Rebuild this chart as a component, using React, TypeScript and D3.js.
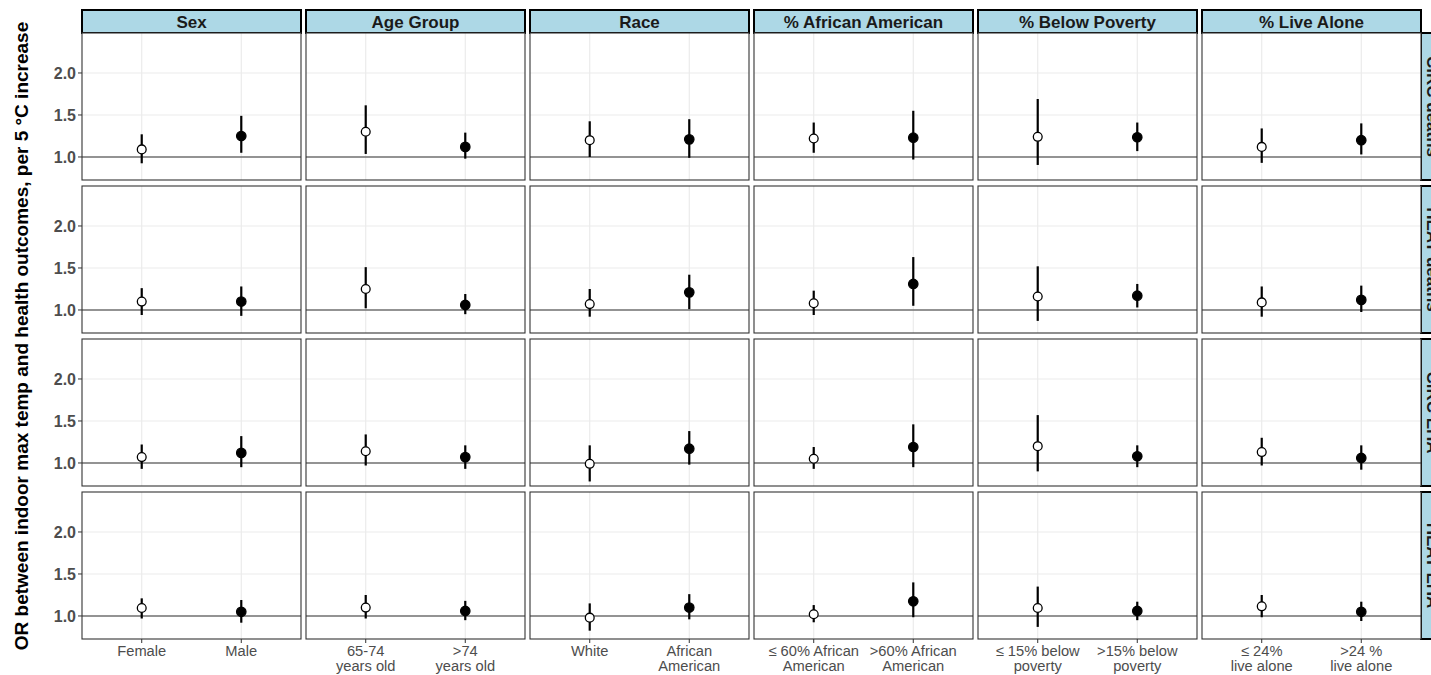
import React from "react";
import * as d3 from "d3";

// facets
const groups = ["Sex", "Age Group", "Race", "% African American", "% Below Poverty", "% Live Alone"];
const outcomes = ["CIRC deaths", "HEAT deaths", "CIRC EHA", "HEAT EHA"];

// two levels per group, tick labels split into lines
const levelLabels = [
  [["Female"], ["Male"]],
  [["65-74", "years old"], [">74", "years old"]],
  [["White"], ["African", "American"]],
  [["≤ 60% African", "American"], [">60% African", "American"]],
  [["≤ 15% below", "poverty"], [">15% below", "poverty"]],
  [["≤ 24%", "live alone"], [">24 %", "live alone"]],
];

const yTicks = [1.0, 1.5, 2.0];

// OR estimates, flattened: group0 level0, group0 level1, group1 level0 ...
const circDeathsOR = [1.09, 1.25, 1.3, 1.12, 1.2, 1.21, 1.22, 1.23, 1.24, 1.235, 1.12, 1.2];
const circDeathsLo = [0.925, 1.05, 1.036, 0.98, 1.0, 0.99, 1.05, 0.97, 0.905, 1.07, 0.93, 1.03];
const circDeathsHi = [1.27, 1.49, 1.615, 1.29, 1.425, 1.45, 1.41, 1.55, 1.69, 1.41, 1.34, 1.4];

const heatDeathsOR = [1.1, 1.1, 1.25, 1.06, 1.07, 1.21, 1.08, 1.31, 1.16, 1.17, 1.09, 1.12];
const heatDeathsLo = [0.94, 0.93, 1.02, 0.95, 0.92, 1.01, 0.94, 1.05, 0.87, 1.03, 0.92, 0.976];
const heatDeathsHi = [1.26, 1.28, 1.51, 1.19, 1.25, 1.42, 1.23, 1.63, 1.52, 1.31, 1.28, 1.29];

const circEhaOR = [1.07, 1.12, 1.14, 1.07, 0.99, 1.17, 1.05, 1.19, 1.2, 1.08, 1.13, 1.06];
const circEhaLo = [0.93, 0.95, 0.97, 0.93, 0.78, 0.98, 0.93, 0.95, 0.9, 0.95, 0.97, 0.92];
const circEhaHi = [1.22, 1.32, 1.34, 1.21, 1.21, 1.38, 1.19, 1.46, 1.57, 1.21, 1.3, 1.21];

const heatEhaOR = [1.095, 1.05, 1.1, 1.06, 0.98, 1.1, 1.02, 1.175, 1.095, 1.06, 1.115, 1.05];
const heatEhaLo = [0.97, 0.92, 0.97, 0.95, 0.825, 0.96, 0.925, 0.985, 0.87, 0.95, 0.985, 0.94];
const heatEhaHi = [1.21, 1.19, 1.25, 1.18, 1.15, 1.26, 1.13, 1.4, 1.35, 1.17, 1.25, 1.17];

const rows = [
  { or: circDeathsOR, lo: circDeathsLo, hi: circDeathsHi },
  { or: heatDeathsOR, lo: heatDeathsLo, hi: heatDeathsHi },
  { or: circEhaOR, lo: circEhaLo, hi: circEhaHi },
  { or: heatEhaOR, lo: heatEhaLo, hi: heatEhaHi },
];

const W = 1431;
const H = 675;
const left = 82;
const panelW = 219;
const colGap = 5;
const stripTop = 10;
const stripH = 23;
const top = stripTop + stripH;
const panelH = 147;
const rowGap = 6;
const font = "'Liberation Sans', Arial, sans-serif";

export default function App() {
  const y = d3.scaleLinear().domain([0.726, 2.476]).range([panelH, 0]);
  const x = d3.scalePoint<string>().domain(["0", "1"]).range([0, panelW]).padding(0.6);

  const rightEdge = left + groups.length * panelW + (groups.length - 1) * colGap;

  return (
    <div style={{ position: "absolute", left: 0, top: 0 }}>
      <svg width={W} height={H} style={{ display: "block", fontFamily: font }}>
        <rect width={W} height={H} fill="#fff" />

        {/* y title */}
        <text
          transform={`translate(21,${top + (4 * panelH + 3 * rowGap) / 2}) rotate(-90)`}
          textAnchor="middle"
          dominantBaseline="central"
          fontWeight="bold"
          fontSize={19}
          fill="#000"
        >
          OR between indoor max temp and health outcomes, per 5 °C increase
        </text>

        {/* column strips */}
        {groups.map((g, c) => {
          const gx = left + c * (panelW + colGap);
          return (
            <g key={g} transform={`translate(${gx},${stripTop})`}>
              <rect width={panelW} height={stripH} fill="#add8e6" stroke="#000" strokeWidth={2} />
              <text x={panelW / 2} y={stripH / 2 + 6} textAnchor="middle" fontWeight="bold" fontSize={17} fill="#1a1a1a">
                {g}
              </text>
            </g>
          );
        })}

        {outcomes.map((o, r) => {
          const gy = top + r * (panelH + rowGap);
          const d = rows[r];
          return (
            <g key={o} transform={`translate(0,${gy})`}>
              {/* row strip on the right (runs past the page edge, as in the source) */}
              <g transform={`translate(${rightEdge},0)`}>
                <rect width={23} height={panelH} fill="#add8e6" stroke="#000" strokeWidth={2} />
                <text
                  transform={`translate(${11.5},${panelH / 2}) rotate(90)`}
                  textAnchor="middle"
                  dominantBaseline="central"
                  fontWeight="bold"
                  fontSize={17}
                  fill="#1a1a1a"
                >
                  {o}
                </text>
              </g>

              {/* y axis on first column */}
              {yTicks.map((t) => (
                <g key={t} transform={`translate(${left},${y(t)})`}>
                  <line x1={-4} x2={0} stroke="#333" strokeWidth={1} />
                  <text x={-6} dy="0.36em" textAnchor="end" fontWeight="bold" fontSize={16} fill="#4d4d4d">
                    {t.toFixed(1)}
                  </text>
                </g>
              ))}

              {groups.map((g, c) => {
                const gx = left + c * (panelW + colGap);
                return (
                  <g key={g} transform={`translate(${gx},0)`}>
                    <rect width={panelW} height={panelH} fill="#fff" />
                    {yTicks.map((t) => (
                      <line key={t} x1={0} x2={panelW} y1={y(t)} y2={y(t)} stroke="#ebebeb" strokeWidth={1.2} />
                    ))}
                    {x.domain().map((k) => (
                      <line key={k} x1={x(k)} x2={x(k)} y1={0} y2={panelH} stroke="#ebebeb" strokeWidth={1.2} />
                    ))}
                    <line x1={0} x2={panelW} y1={y(1)} y2={y(1)} stroke="#333" strokeWidth={1.2} />
                    {x.domain().map((k, i) => {
                      const idx = c * 2 + i;
                      const cx = x(k) as number;
                      return (
                        <g key={k}>
                          <line x1={cx} x2={cx} y1={y(d.lo[idx])} y2={y(d.hi[idx])} stroke="#000" strokeWidth={2.2} />
                          <circle
                            cx={cx}
                            cy={y(d.or[idx])}
                            r={i === 0 ? 4.4 : 4.7}
                            fill={i === 0 ? "#fff" : "#000"}
                            stroke="#000"
                            strokeWidth={1.3}
                          />
                        </g>
                      );
                    })}
                    <rect width={panelW} height={panelH} fill="none" stroke="#333" strokeWidth={1.1} />

                    {/* x ticks and labels on bottom row */}
                    {r === outcomes.length - 1 &&
                      x.domain().map((k, i) => (
                        <g key={`t${k}`} transform={`translate(${x(k)},${panelH})`}>
                          <line y1={0} y2={4} stroke="#333" strokeWidth={1} />
                          {levelLabels[c][i].map((ln, li) => (
                            <text key={li} y={17 + li * 15} textAnchor="middle" fontSize={14.7} fill="#4d4d4d">
                              {ln}
                            </text>
                          ))}
                        </g>
                      ))}
                  </g>
                );
              })}
            </g>
          );
        })}
      </svg>
    </div>
  );
}
